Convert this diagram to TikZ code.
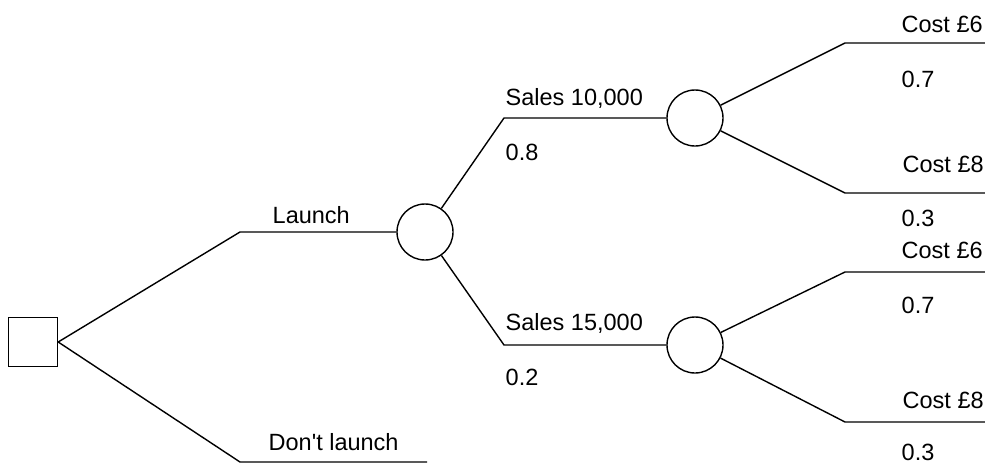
\documentclass[tikz,border=0pt]{standalone}
\usepackage{fontspec}
\newfontfamily\treefont{Liberation Sans}

\begin{document}
\begin{tikzpicture}[
    x=1pt, y=-1pt,
    line width=1.4pt,
    decision/.style={rectangle, draw, minimum size=49pt, inner sep=0pt},
    chance/.style={circle, draw, minimum size=56pt, inner sep=0pt},
    label/.style={anchor=base west, inner sep=0pt, font=\treefont\fontsize{23.5}{28}\selectfont},
    branch/.style={line width=1.4pt}
]
\useasboundingbox (0,0) rectangle (985,463);

% Decision and chance nodes
\node[decision] (d)  at (33, 342)  {};
\node[chance]   (c1) at (425, 232) {};
\node[chance]   (c2) at (695, 118) {};
\node[chance]   (c3) at (695, 345) {};

% Branch corners and free ends
\coordinate (launch)  at (240, 232);
\coordinate (nolaunch) at (240, 462);
\coordinate (nolaunchend) at (427, 462);
\coordinate (s10) at (504, 118);
\coordinate (s15) at (504, 345);
\coordinate (k11) at (845, 43);
\coordinate (k12) at (845, 193);
\coordinate (k21) at (845, 272);
\coordinate (k22) at (845, 422);
\coordinate (e11) at (985, 43);
\coordinate (e12) at (985, 193);
\coordinate (e21) at (985, 272);
\coordinate (e22) at (985, 422);

% Branches
\draw[branch] (d.east) -- (launch) -- (c1);
\draw[branch] (d.east) -- (nolaunch) -- (nolaunchend);
\draw[branch] (c1) -- (s10) -- (c2);
\draw[branch] (c1) -- (s15) -- (c3);
\foreach \i in {1,2}{
    \draw[branch] (c2) -- (k1\i) -- (e1\i);
    \draw[branch] (c3) -- (k2\i) -- (e2\i);
}

% Labels
\node[label] (lLaunch)   at (272, 223) {Launch};
\node[label] (lNoLaunch) at (268, 450) {Don't launch};
\node[label] (lS10) at (505, 105) {Sales 10,000};
\node[label] (p10) at (505, 160) {0.8};
\node[label] (lS15) at (505, 330) {Sales 15,000};
\node[label] (p15) at (505, 385) {0.2};
\node[label] (lC11) at (901, 32)  {Cost £6};
\node[label] (p11)  at (901, 87)  {0.7};
\node[label] (lC12) at (902, 172) {Cost £8};
\node[label] (p12)  at (901, 226) {0.3};
\node[label] (lC21) at (901, 258) {Cost £6};
\node[label] (p21)  at (901, 313) {0.7};
\node[label] (lC22) at (902, 408) {Cost £8};
\node[label] (p22)  at (901, 460) {0.3};

\end{tikzpicture}
\end{document}
